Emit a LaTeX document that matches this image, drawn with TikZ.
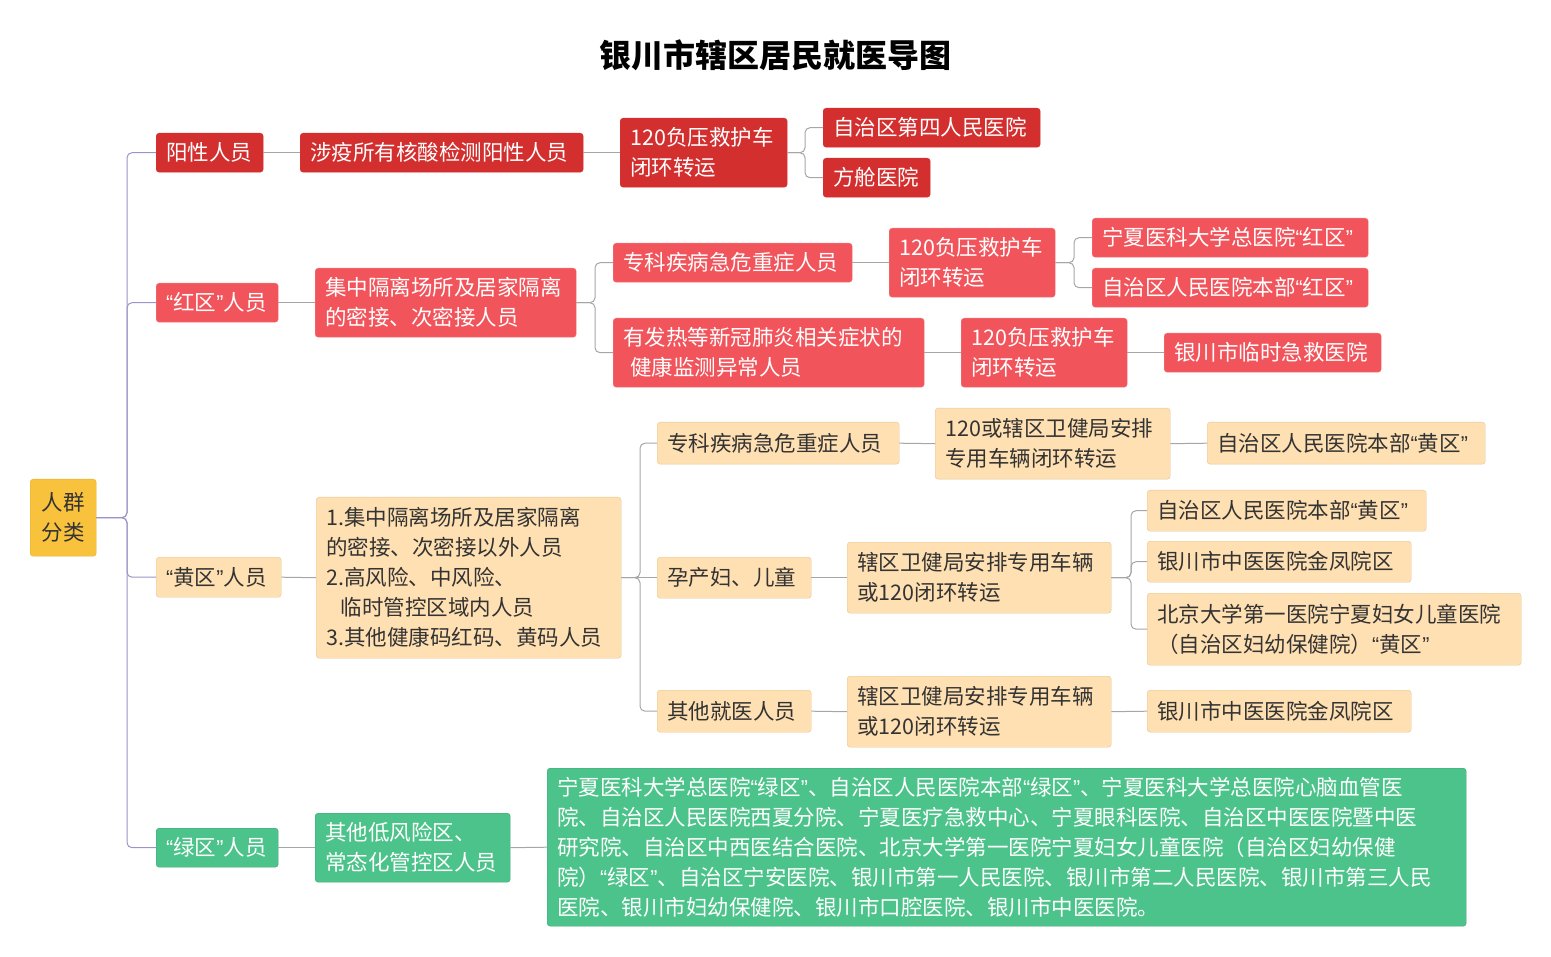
\documentclass[tikz,border=0pt]{standalone}
\usepackage{fontspec}
\setmainfont{Noto Sans CJK SC}
\newfontfamily\lat{Liberation Sans}
\newcommand\ql{{\lat “}}
\newcommand\qr{{\lat ”}}
\XeTeXlinebreaklocale "zh"
\XeTeXlinebreakskip=0pt plus 1pt
\begin{document}
\begin{tikzpicture}[x=1pt,y=-1pt,
  base/.style={rounded corners=3pt,inner xsep=10pt,inner ysep=0pt,align=left,font=\fontsize{21.5}{30}\selectfont},
  dred/.style={base,fill=dred,draw=dred,text=white},
  rred/.style={base,fill=rred,draw=rred!80,text=white},
  yel/.style={base,fill=yelf,draw=yeld,text=textc},
  grn/.style={base,fill=grnf,draw=grnf!85!black,text=white},
  conn/.style={draw=gray!70,line width=1pt,rounded corners=5pt},
  sconn/.style={draw=gray!70,line width=1pt},
  rconn/.style={draw=purp,line width=1pt,rounded corners=5pt}]
\definecolor{dred}{HTML}{D32F2F}
\definecolor{rred}{HTML}{F2545B}
\definecolor{yelf}{HTML}{FFE0B2}
\definecolor{yeld}{HTML}{E3C595}
\definecolor{grnf}{HTML}{4CC38A}
\definecolor{rootf}{HTML}{F9C23C}
\definecolor{textc}{HTML}{333333}
\definecolor{purp}{HTML}{9A94C8}
\newcommand\bx[7]{\node[#6,anchor=north west,minimum width={(#4-#2)*1pt},minimum height={(#5-#3)*1pt},text width={(#4-#2-20)*1pt}] (#1) at (#2,#3) {#7};}
\newcommand\cn[4][conn]{\draw[#1] (#2.east) -- (#2.east -| #4,0) |- (#3.west);}
\newcommand\cs[2]{\draw[sconn] (#1.east) -- (#2.west);}
\useasboundingbox (0,0) rectangle (1551,957);
\node[font=\bfseries\fontsize{32}{36}\selectfont] (title) at (775,55) {银川市辖区居民就医导图};
\node[base,fill=rootf,draw=rootf!90!black,text=textc,anchor=north west,minimum width=66pt,minimum height=77pt,align=center,inner xsep=2pt] (root) at (30,479) {人群\\分类};
\bx{a1}{156}{133}{263}{172}{dred}{阳性人员}
\bx{a2}{300}{133}{583}{172}{dred}{涉疫所有核酸检测阳性人员}
\bx{a3}{620}{118}{787}{187}{dred}{120负压救护车\\闭环转运}
\bx{a4}{823}{108}{1040}{147}{dred}{自治区第四人民医院}
\bx{a5}{823}{158}{930}{197}{dred}{方舱医院}
\bx{b1}{156}{283}{278}{322}{rred}{\ql 红区\qr 人员}
\bx{b2}{315}{268}{576}{337}{rred}{集中隔离场所及居家隔离\\的密接、次密接人员}
\bx{b3}{613}{243}{852}{282}{rred}{专科疾病急危重症人员}
\bx{b4}{889}{228}{1055}{297}{rred}{120负压救护车\\闭环转运}
\bx{b5}{1092}{218}{1368}{257}{rred}{宁夏医科大学总医院\ql 红区\qr}
\bx{b6}{1092}{268}{1368}{307}{rred}{自治区人民医院本部\ql 红区\qr}
\bx{b7}{613}{318}{924}{387}{rred}{有发热等新冠肺炎相关症状的\\\ 健康监测异常人员}
\bx{b8}{961}{318}{1127}{387}{rred}{120负压救护车\\闭环转运}
\bx{b9}{1164}{333}{1381}{372}{rred}{银川市临时急救医院}
\bx{c1}{156}{557}{281}{597}{yel}{\ql 黄区\qr 人员}
\bx{c2}{316}{497}{621}{658}{yel}{1.集中隔离场所及居家隔离\\的密接、次密接以外人员\\2.高风险、中风险、\\\ \ 临时管控区域内人员\\3.其他健康码红码、黄码人员}
\bx{c3}{657}{422}{899}{464}{yel}{专科疾病急危重症人员}
\bx{c4}{935}{408}{1170}{479}{yel}{120或辖区卫健局安排\\专用车辆闭环转运}
\bx{c5}{1207}{422}{1485}{464}{yel}{自治区人民医院本部\ql 黄区\qr}
\bx{c6}{657}{557}{811}{598}{yel}{孕产妇、儿童}
\bx{c7}{847}{542}{1111}{613}{yel}{辖区卫健局安排专用车辆\\或120闭环转运}
\bx{c8}{1147}{490}{1426}{531}{yel}{自治区人民医院本部\ql 黄区\qr}
\bx{c9}{1147}{541}{1411}{582}{yel}{银川市中医医院金凤院区}
\bx{c10}{1147}{593}{1521}{665}{yel}{北京大学第一医院宁夏妇女儿童医院\\（自治区妇幼保健院）\ql 黄区\qr}
\bx{c11}{657}{690}{811}{732}{yel}{其他就医人员}
\bx{c12}{847}{676}{1111}{747}{yel}{辖区卫健局安排专用车辆\\或120闭环转运}
\bx{c13}{1147}{690}{1411}{732}{yel}{银川市中医医院金凤院区}
\bx{d1}{156}{828}{278}{867}{grn}{\ql 绿区\qr 人员}
\bx{d2}{315}{813}{510}{882}{grn}{其他低风险区、\\常态化管控区人员}
\bx{d3}{547}{768}{1466}{926}{grn}{宁夏医科大学总医院\ql 绿区\qr 、自治区人民医院本部\ql 绿区\qr 、宁夏医科大学总医院心脑血管医\\院、自治区人民医院西夏分院、宁夏医疗急救中心、宁夏眼科医院、自治区中医医院暨中医\\研究院、自治区中西医结合医院、北京大学第一医院宁夏妇女儿童医院（自治区妇幼保健\\院）\ql 绿区\qr 、自治区宁安医院、银川市第一人民医院、银川市第二人民医院、银川市第三人民\\医院、银川市妇幼保健院、银川市口腔医院、银川市中医医院。}
% root connectors
\foreach \c in {a1,b1,c1,d1} {\cn[rconn]{root}{\c}{127}}
% red positive
\cs{a1}{a2}
\cs{a2}{a3}
\cn{a3}{a4}{805}
\cn{a3}{a5}{805}
% red zone
\cs{b1}{b2}
\cn{b2}{b3}{595}
\cn{b2}{b7}{595}
\cs{b3}{b4}
\cn{b4}{b5}{1074}
\cn{b4}{b6}{1074}
\cs{b7}{b8}
\cs{b8}{b9}
% yellow
\cs{c1}{c2}
\cn{c2}{c3}{640}
\cs{c2}{c6}
\cn{c2}{c11}{640}
\cs{c3}{c4}
\cs{c4}{c5}
\cs{c6}{c7}
\cn{c7}{c8}{1131}
\cn{c7}{c9}{1131}
\cn{c7}{c10}{1131}
\cs{c11}{c12}
\cs{c12}{c13}
% green
\cs{d1}{d2}
\cs{d2}{d3}
\end{tikzpicture}
\end{document}
